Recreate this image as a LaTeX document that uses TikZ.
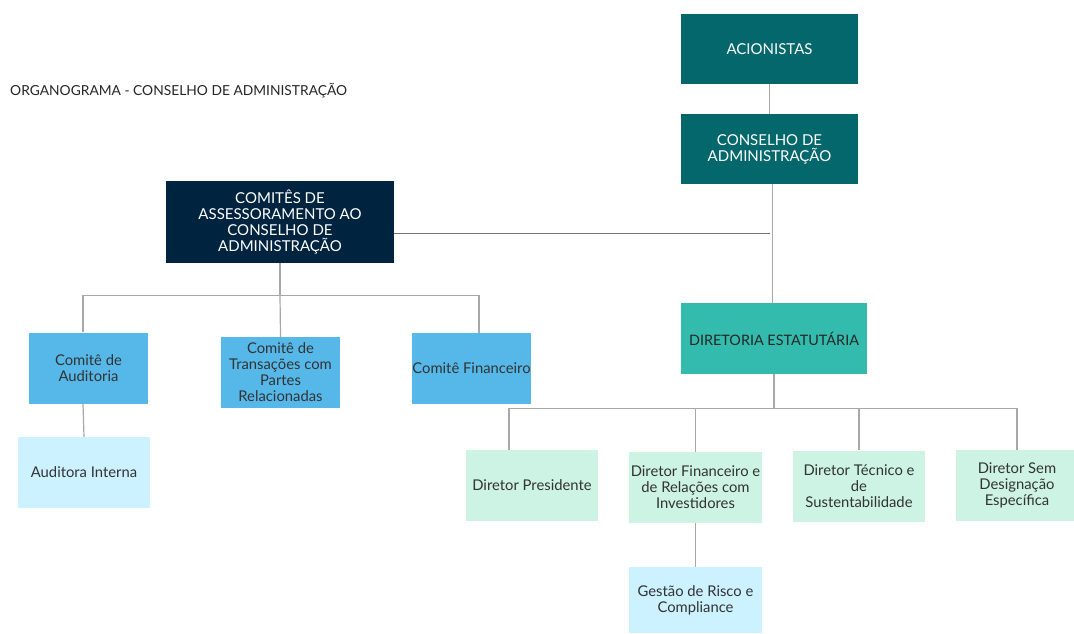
\documentclass[tikz,border=0pt]{standalone}
\usepackage{fontspec}
\setmainfont{Lato}
\usetikzlibrary{calc}
\definecolor{teald}{HTML}{03676B}
\definecolor{navy}{HTML}{00243F}
\definecolor{tealm}{HTML}{33BBAE}
\definecolor{bluem}{HTML}{55B8E8}
\definecolor{bluel}{HTML}{CCF1FF}
\definecolor{greenl}{HTML}{CCF3E3}
\definecolor{linec}{HTML}{A8A8A8}
\definecolor{txtd}{HTML}{333333}
\tikzset{
  x=1pt, y=-1pt,
  base/.style={inner sep=0pt, align=center, font=\fontsize{14.8}{16}\selectfont},
  topbox/.style={base, fill=teald, text=white, font=\fontsize{15}{16}\selectfont, minimum width=177pt, minimum height=70pt},
  navybox/.style={base, fill=navy, text=white, font=\fontsize{15}{16}\selectfont, minimum width=228pt, minimum height=82pt},
  dirbox/.style={base, fill=tealm, text=black!85, font=\fontsize{14.4}{16}\selectfont, minimum width=186pt, minimum height=71pt},
  combox/.style={base, fill=bluem, text=txtd, minimum width=119pt, minimum height=71pt},
  lbbox/.style={base, fill=bluel, text=txtd, minimum width=133pt, minimum height=71pt},
  grbox/.style={base, fill=greenl, text=txtd, minimum width=132pt, minimum height=71pt},
  conn/.style={draw=linec, line width=1.2pt},
  connd/.style={draw=black!55, line width=1pt}
}
\begin{document}
\begin{tikzpicture}
\useasboundingbox (0,0) rectangle (1074,633);
\node[anchor=west, font=\fontsize{13.8}{14}\selectfont, text=black!85, inner sep=0pt] (title) at (10,91) {ORGANOGRAMA - CONSELHO DE ADMINISTRAÇÃO};

\node[topbox] (acion) at (769.5,49) {ACIONISTAS};
\node[topbox] (conselho) at (769.5,149) {CONSELHO DE\\ADMINISTRAÇÃO};
\node[navybox] (comites) at (280,222) {COMITÊS DE\\ASSESSORAMENTO AO\\CONSELHO DE\\ADMINISTRAÇÃO};
\node[dirbox] (diretoria) at (774,338.5) {DIRETORIA ESTATUTÁRIA};

\node[combox] (audit) at (88.5,368) {Comitê de\\Auditoria};
\node[combox] (trans) at (280.5,372.5) {Comitê de\\Transações com\\Partes\\Relacionadas};
\node[combox] (fin) at (471.5,368.5) {Comitê Financeiro};
\node[lbbox, minimum width=132pt] (auditora) at (84,472.5) {Auditora Interna};

\node[grbox] (pres) at (532,485.5) {Diretor Presidente};
\node[grbox, minimum width=133pt] (dfin) at (695.5,487.5) {Diretor Financeiro e\\de Relações com\\Investidores};
\node[grbox] (tec) at (859,486) {Diretor Técnico e\\de\\Sustentabilidade};
\node[grbox, minimum width=122pt] (sem) at (1017,485.5) {Diretor Sem\\Designação\\Específica};
\node[lbbox, minimum height=66pt] (gestao) at (695.5,600) {Gestão de Risco e\\Compliance};

% connectors
\draw[conn] (acion.south) -- (conselho.north);
\draw[conn] ([xshift=3pt]conselho.south) -- ([xshift=3pt]conselho.south |- diretoria.north);
\draw[connd] ([yshift=-11pt]comites.east) -- ([yshift=-11pt]comites.east -| conselho.south);

\draw[conn] (comites.south) -- ++(0,32) coordinate (cj);
\draw[conn] ([xshift=-5.5pt]audit.north) |- (cj) -| ([xshift=7.5pt]fin.north);
\draw[conn] (cj) -- (trans.north);
\draw[conn] ([xshift=-5.5pt]audit.south) -- (auditora.north);

\draw[conn] (diretoria.south) -- ++(0,34) coordinate (dj);
\draw[conn] ([xshift=-23pt]pres.north) |- (dj) -| (sem.north);
\draw[conn] (dfin.north) -- (dfin.north |- dj);
\draw[conn] (tec.north) -- (tec.north |- dj);
\draw[conn] (dfin.south) -- (gestao.north);
\end{tikzpicture}
\end{document}
